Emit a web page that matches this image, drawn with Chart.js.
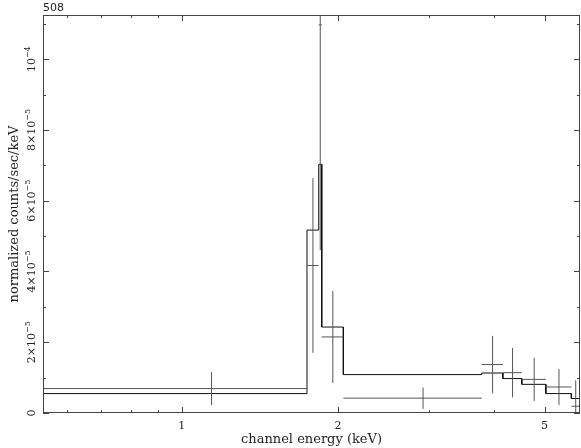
<!DOCTYPE html>
<html>
<head>
<meta charset="utf-8">
<script src="https://cdn.jsdelivr.net/npm/chart.js@4.4.1/dist/chart.umd.min.js"></script>
<style>
  html, body { margin: 0; padding: 0; background: #fff; }
  canvas { display: block; }
</style>
</head>
<body>
<canvas id="specChart" width="581" height="448"></canvas>
<script>
// channel bin edges, keV
const binEdges = [0.54, 1.743, 1.836, 1.861, 2.048, 3.785, 4.155, 4.52, 5.028, 5.63, 5.85];
// values in units of 1e-5 normalized counts/sec/keV
const rates = [0.69, 4.17, 10.97, 2.15, 0.42, 1.37, 1.14, 0.95, 0.735, 0.19];
const rateErrors = [0.47, 2.47, 6.37, 1.30, 0.30, 0.81, 0.70, 0.61, 0.51, 0.735];
const modelRates = [0.549, 5.17, 7.03, 2.43, 1.086, 1.13, 0.973, 0.81, 0.549, 0.41];

const xMajorTicks = [1, 2, 5];
const xMinorTicks = [0.6, 0.7, 0.8, 0.9, 3, 4];
const yMajorTicks = [0, 2, 4, 6, 8, 10];
const yMinorTicks = [1, 3, 5, 7, 9, 11];
const yTickLabels = [['0', ''], ['2×10', '−5'], ['4×10', '−5'], ['6×10', '−5'], ['8×10', '−5'], ['10', '−4']];
const plotTitle = '508';

// data crosses: bin width + error bar, separated by gaps
const crossPoints = [];
rates.forEach((v, i) => {
    const lo = binEdges[i], hi = binEdges[i + 1];
    const mid = (lo + hi) / 2;
    crossPoints.push({x: lo, y: v}, {x: hi, y: v}, {x: hi, y: null});
    crossPoints.push({x: mid, y: v - rateErrors[i]}, {x: mid, y: v + rateErrors[i]}, {x: mid, y: null});
});

// model histogram
const modelPoints = [];
modelRates.forEach((v, i) => {
    modelPoints.push({x: binEdges[i], y: v}, {x: binEdges[i + 1], y: v});
});

const serif = '"DejaVu Serif", serif';

const framePlugin = {
    id: 'frame',
    afterDraw(chart) {
        const {ctx, chartArea: a, scales: {x, y}} = chart;
        ctx.save();
        ctx.strokeStyle = '#444';
        ctx.lineWidth = 1;
        ctx.strokeRect(a.left + 0.5, a.top + 0.5, a.right - a.left - 1, a.bottom - a.top - 1);

        const xTick = (v, len) => {
            const px = Math.round(x.getPixelForValue(v)) + 0.5;
            ctx.beginPath();
            ctx.moveTo(px, a.bottom); ctx.lineTo(px, a.bottom - len);
            ctx.moveTo(px, a.top); ctx.lineTo(px, a.top + len);
            ctx.stroke();
        };
        const yTick = (v, len) => {
            const py = Math.round(y.getPixelForValue(v)) + 0.5;
            ctx.beginPath();
            ctx.moveTo(a.left, py); ctx.lineTo(a.left + len, py);
            ctx.moveTo(a.right, py); ctx.lineTo(a.right - len, py);
            ctx.stroke();
        };
        xMajorTicks.forEach(v => xTick(v, 6));
        xMinorTicks.forEach(v => xTick(v, 3));
        yMajorTicks.forEach(v => yTick(v, 6));
        yMinorTicks.forEach(v => yTick(v, 3));

        ctx.fillStyle = '#222';
        ctx.font = '11px ' + serif;
        ctx.textAlign = 'center';
        ctx.textBaseline = 'alphabetic';
        xMajorTicks.forEach(v => {
            ctx.fillText(String(v), x.getPixelForValue(v), 429);
        });

        yMajorTicks.forEach((v, i) => {
            const [main, sup] = yTickLabels[i];
            ctx.save();
            ctx.translate(35, y.getPixelForValue(v));
            ctx.rotate(-Math.PI / 2);
            ctx.textAlign = 'left';
            ctx.font = '11px ' + serif;
            const w1 = ctx.measureText(main).width;
            ctx.font = '8px ' + serif;
            const w2 = sup ? ctx.measureText(sup).width : 0;
            const start = -(w1 + w2) / 2;
            ctx.font = '11px ' + serif;
            ctx.fillText(main, start, 0);
            if (sup) {
                ctx.font = '8px ' + serif;
                ctx.fillText(sup, start + w1, -5);
            }
            ctx.restore();
        });

        ctx.font = '11px "DejaVu Sans", sans-serif';
        ctx.textAlign = 'left';
        ctx.fillText(plotTitle, 43, 10.5);
        ctx.restore();
    }
};

const ctxSpec = document.getElementById('specChart').getContext('2d');
const specChart = new Chart(ctxSpec, {
    type: 'line',
    data: {
        datasets: [{
            label: 'data',
            data: crossPoints,
            borderColor: '#555',
            borderWidth: 1,
            pointRadius: 0,
            spanGaps: false,
            fill: false
        }, {
            label: 'model',
            data: modelPoints,
            borderColor: '#111',
            borderWidth: 1,
            pointRadius: 0,
            fill: false
        }]
    },
    options: {
        responsive: false,
        animation: false,
        devicePixelRatio: 1,
        layout: {padding: {top: 15, right: 1, left: 0, bottom: 0}},
        plugins: {legend: {display: false}, tooltip: {enabled: false}},
        scales: {
            x: {
                type: 'logarithmic',
                min: 0.5405,
                max: 5.85,
                ticks: {display: false},
                grid: {display: false},
                border: {display: false},
                title: {
                    display: true,
                    text: 'channel energy (keV)',
                    color: '#222',
                    font: {family: 'DejaVu Serif', size: 13},
                    padding: {top: 0, bottom: 1}
                },
                afterFit(s) { s.height = 35; }
            },
            y: {
                type: 'linear',
                min: 0,
                max: 11.25,
                ticks: {display: false},
                grid: {display: false},
                border: {display: false},
                title: {
                    display: true,
                    text: 'normalized counts/sec/keV',
                    color: '#222',
                    font: {family: 'DejaVu Serif', size: 13},
                    padding: {top: 7, bottom: 0}
                },
                afterFit(s) { s.width = 43; }
            }
        }
    },
    plugins: [framePlugin]
});
</script>
</body>
</html>
